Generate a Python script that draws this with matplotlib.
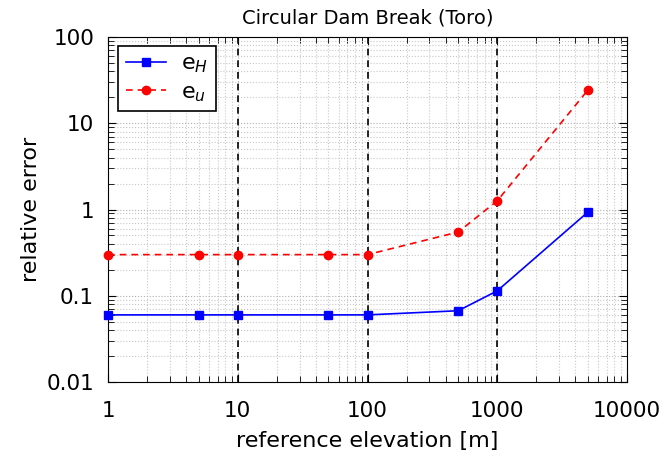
import matplotlib
matplotlib.use("Agg")
import matplotlib.pyplot as plt

x_vals = [1, 5, 10, 50, 100, 500, 1000, 5000]
e_H = [0.06, 0.06, 0.06, 0.06, 0.06, 0.067, 0.114, 0.935]
e_u = [0.30, 0.30, 0.30, 0.30, 0.30, 0.548, 1.26, 24.3]
vlines = [10, 100, 1000]

plt.rcParams['font.family'] = ['DejaVu Sans']
plt.rcParams['mathtext.fontset'] = 'dejavusans'

fig = plt.figure(figsize=(6.66, 4.62), dpi=100)
ax = fig.add_axes([108/666, 1-382/462, (627-108)/666, (382-37)/462])

ax.set_xscale('log')
ax.set_yscale('log')
ax.set_xlim(1, 10000)
ax.set_ylim(0.01, 100)

ax.grid(True, which='major', color='#b0b0b0', linestyle=':', linewidth=0.8)
ax.grid(True, which='minor', color='#c8c8c8', linestyle=':', linewidth=0.8)
for v in vlines:
    ax.axvline(v, color='black', linestyle='--', linewidth=1.2, dashes=(4, 3), zorder=2)

ax.plot(x_vals, e_H, color='blue', marker='s', markersize=6, linewidth=1.2,
        label='e$_H$', zorder=3, clip_on=False)
ax.plot(x_vals, e_u, color='red', marker='o', markersize=6, linewidth=1.2,
        linestyle='--', dashes=(4, 3), label='e$_u$', zorder=3, clip_on=False)

ax.set_xticks([1, 10, 100, 1000, 10000])
ax.set_xticklabels(['1', '10', '100', '1000', '10000'])
ax.set_yticks([0.01, 0.1, 1, 10, 100])
ax.set_yticklabels(['0.01', '0.1', '1', '10', '100'])
ax.tick_params(which='both', direction='in', top=True, right=True, labelsize=15.5)
ax.tick_params(which='major', length=6)
ax.tick_params(axis='x', which='major', pad=14)
ax.tick_params(axis='y', which='major', pad=10)
ax.tick_params(which='minor', length=4)

ax.set_xlabel('reference elevation [m]', fontsize=16, labelpad=7)
ax.set_ylabel('relative error', fontsize=16, labelpad=4)
ax.set_title('Circular Dam Break (Toro)', fontsize=14, pad=10)

leg = ax.legend(loc='upper left', fontsize=16, fancybox=False, edgecolor='black',
                framealpha=1, handlelength=1.8, handletextpad=0.7, borderpad=0.35,
                labelspacing=0.3, borderaxespad=0,
                bbox_to_anchor=(118/666, 1-46/462), bbox_transform=fig.transFigure)
leg.get_frame().set_linewidth(1.2)

fig.savefig('out.png', dpi=100)
